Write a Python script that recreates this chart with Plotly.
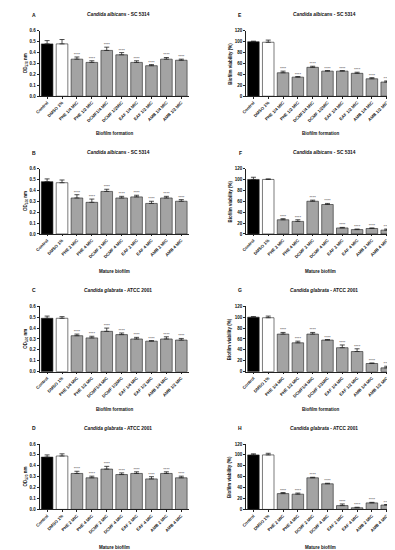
import plotly.graph_objects as go

formation_labels = ["Control", "DMSO 1%", "PHE 1/4 MIC", "PHE 1/2 MIC", "DCMF1/4 MIC",
                    "DCMF 1/2MIC", "EAF 1/4 MIC", "EAF 1/2 MIC", "AMB 1/4 MIC", "AMB 1/2 MIC"]
mature_labels = ["Control", "DMSO 1%", "PHE 2 MIC", "PHE 4 MIC", "DCMF 2 MIC",
                 "DCMF 4 MIC", "EAF 2 MIC", "EAF 4 MIC", "AMB 2 MIC", "AMB 4 MIC"]

# OD570 (crystal violet) panels
A_vals = [0.48, 0.48, 0.34, 0.31, 0.42, 0.38, 0.31, 0.28, 0.34, 0.33]
A_err = [0.03, 0.04, 0.02, 0.015, 0.03, 0.02, 0.015, 0.01, 0.015, 0.01]
B_vals = [0.48, 0.47, 0.33, 0.29, 0.39, 0.33, 0.34, 0.28, 0.33, 0.30]
B_err = [0.025, 0.025, 0.03, 0.03, 0.02, 0.015, 0.015, 0.02, 0.015, 0.015]
C_vals = [0.49, 0.49, 0.33, 0.31, 0.37, 0.34, 0.30, 0.28, 0.30, 0.29]
C_err = [0.02, 0.015, 0.015, 0.015, 0.03, 0.015, 0.015, 0.005, 0.02, 0.015]
D_vals = [0.48, 0.49, 0.33, 0.29, 0.37, 0.32, 0.33, 0.28, 0.33, 0.29]
D_err = [0.02, 0.02, 0.02, 0.015, 0.025, 0.015, 0.015, 0.02, 0.015, 0.015]

# Viability panels (%)
E_vals = [100, 99, 43, 35, 53, 46, 46, 42, 32, 26]
E_err = [1, 4, 3, 1, 2, 1, 1, 2, 2, 2]
F_vals = [100, 100, 26, 23, 60, 54, 11, 8, 10, 7]
F_err = [4, 1, 2, 3, 2, 2, 1, 1, 1, 2]
G_vals = [100, 99, 69, 53, 69, 58, 44, 37, 15, 7]
G_err = [1, 3, 3, 3, 3, 1, 5, 5, 1, 3]
H_vals = [100, 100, 29, 28, 58, 47, 7, 3, 12, 8]
H_err = [2, 3, 2, 2, 1, 1, 3, 1, 1, 1]

stars = [" ", " "] + ["****"] * 8

panels = [
    ("A", "<i>Candida albicans</i> - SC 5314", A_vals, A_err, formation_labels, "Biofilm formation", "od"),
    ("B", "<i>Candida albicans</i> - SC 5314", B_vals, B_err, mature_labels, "Mature biofilm", "od"),
    ("C", "<i>Candida glabrata</i> - ATCC 2001", C_vals, C_err, formation_labels, "Biofilm formation", "od"),
    ("D", "<i>Candida glabrata</i> - ATCC 2001", D_vals, D_err, mature_labels, "Mature biofilm", "od"),
    ("E", "<i>Candida albicans</i> - SC 5314", E_vals, E_err, formation_labels, "Biofilm formation", "via"),
    ("F", "<i>Candida albicans</i> - SC 5314", F_vals, F_err, mature_labels, "Mature biofilm", "via"),
    ("G", "<i>Candida glabrata</i> - ATCC 2001", G_vals, G_err, formation_labels, "Biofilm formation", "via"),
    ("H", "<i>Candida glabrata</i> - ATCC 2001", H_vals, H_err, mature_labels, "Mature biofilm", "via"),
]

W, H = 395, 550
FONT = "Arial, Liberation Sans, sans-serif"
bar_colors = ["#000000", "#ffffff"] + ["#a3a3a3"] * 8

fig = go.Figure()
layout = dict(width=W, height=H, autosize=False, margin=dict(l=0, r=0, t=0, b=0),
              paper_bgcolor="white", plot_bgcolor="white", showlegend=False,
              bargap=0.22, font=dict(family=FONT, color="#000"))
annotations = []

left_x = (27, 178)
right_x = (236, 386)
tops = [21, 160, 299, 438]
ph = 66


def px_x(v):
    return v / W


def px_y(v):
    return 1 - v / H


for i, (letter, title, vals, err, labels, xlabel, kind) in enumerate(panels):
    col = 0 if i < 4 else 1
    row = i % 4
    xd = left_x if col == 0 else right_x
    top = tops[row]
    bot = top + ph
    n = i + 1
    xa = "x" if n == 1 else f"x{n}"
    ya = "y" if n == 1 else f"y{n}"
    fig.add_trace(go.Bar(
        x=labels, y=vals, xaxis=xa, yaxis=ya,
        marker=dict(color=bar_colors, line=dict(color="#222", width=0.6)),
        error_y=dict(type="data", symmetric=False, array=err, arrayminus=[0] * len(err),
                     color="#222", thickness=0.8, width=2.5),
    ))
    fig.add_trace(go.Scatter(
        x=labels, y=[v + e for v, e in zip(vals, err)], xaxis=xa, yaxis=ya,
        mode="text", text=stars, textposition="top center",
        textfont=dict(size=4, color="#333", family=FONT), cliponaxis=False,
        hoverinfo="skip",
    ))
    xkey = "xaxis" if n == 1 else f"xaxis{n}"
    ykey = "yaxis" if n == 1 else f"yaxis{n}"
    layout[xkey] = dict(domain=[px_x(xd[0]), px_x(xd[1])], anchor=ya, type="category",
                        showline=True, linecolor="#222", linewidth=0.8,
                        ticks="outside", ticklen=1.5, tickwidth=0.6, tickcolor="#222",
                        tickangle=-45, tickfont=dict(size=4.3, family=FONT, weight="bold", color="#111"),
                        showgrid=False, zeroline=False, fixedrange=True)
    if kind == "od":
        yr, dt, fmt = [0, 0.6], 0.1, ".1f"
        ytitle = "OD<sub>570</sub> nm"
    else:
        yr, dt, fmt = [0, 120], 20, "d"
        ytitle = "Biofilm viability (%)"
    layout[ykey] = dict(domain=[px_y(bot), px_y(top)], anchor=xa, range=yr, dtick=dt,
                        tickformat=fmt, showline=True, linecolor="#222", linewidth=0.8,
                        ticks="outside", ticklen=2, tickwidth=0.6, tickcolor="#222",
                        tickfont=dict(size=4.5, family=FONT, weight="bold", color="#111"),
                        showgrid=False, zeroline=False, fixedrange=True)
    annotations.append(dict(text=f"<b>{letter}</b>", x=px_x(xd[0] - 6), y=px_y(top - 16),
                            xref="paper", yref="paper", showarrow=False,
                            xanchor="center", yanchor="middle",
                            font=dict(size=5, family=FONT, color="#111")))
    annotations.append(dict(text=f"<b>{title}</b>", x=px_x((xd[0] + xd[1]) / 2 + 4), y=px_y(top - 16),
                            xref="paper", yref="paper", showarrow=False,
                            xanchor="center", yanchor="middle",
                            font=dict(size=4.8, family=FONT, color="#111")))
    annotations.append(dict(text=f"<b>{xlabel}</b>", x=px_x((xd[0] + xd[1]) / 2), y=px_y(bot + 38),
                            xref="paper", yref="paper", showarrow=False,
                            xanchor="center", yanchor="middle",
                            font=dict(size=4.5, family=FONT, color="#111")))
    annotations.append(dict(text=f"<b>{ytitle}</b>", x=px_x(xd[0] - 14 if kind == "od" else xd[0] - 16),
                            y=px_y((top + bot) / 2),
                            xref="paper", yref="paper", showarrow=False, textangle=-90,
                            xanchor="center", yanchor="middle",
                            font=dict(size=4.5, family=FONT, color="#111")))

layout["annotations"] = annotations
fig.update_layout(**layout)
fig.write_html("out.html")
